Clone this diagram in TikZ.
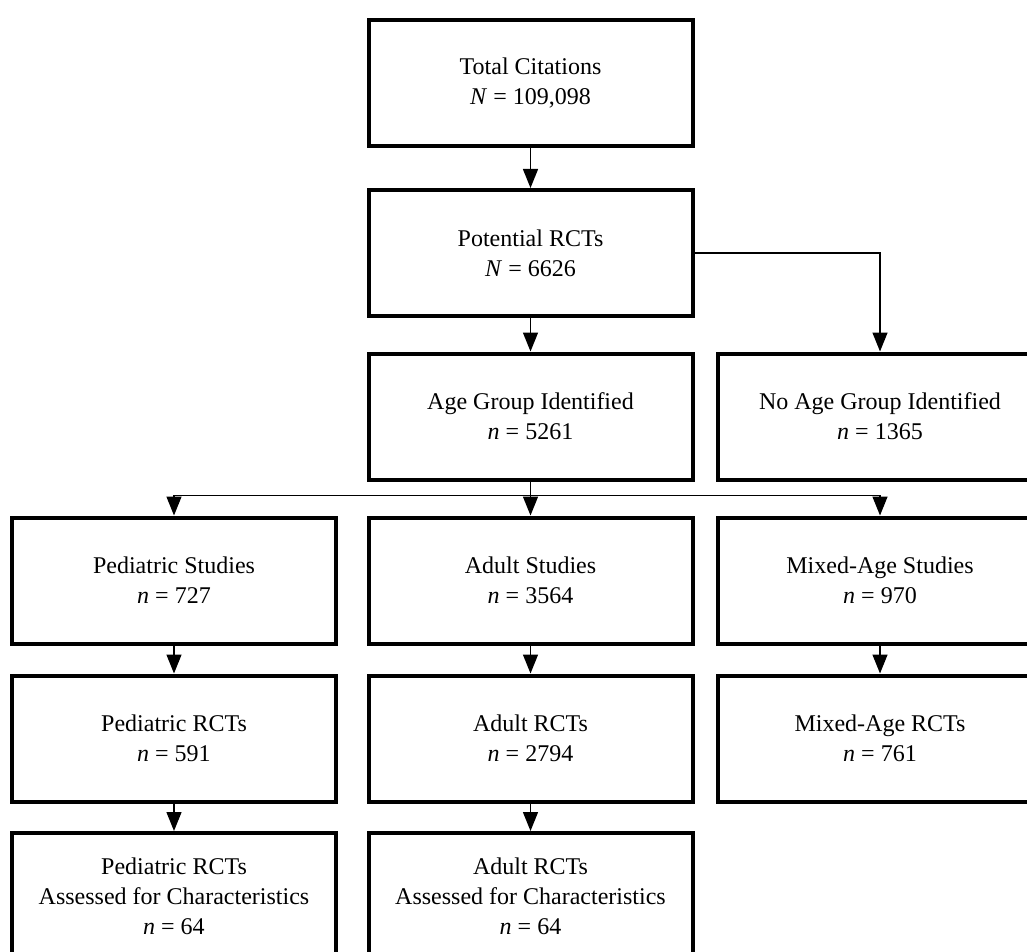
\documentclass[tikz,border=0pt]{standalone}
\usepackage{fontspec}
\setmainfont{Liberation Serif}
\usetikzlibrary{arrows.meta}
\begin{document}
\begin{tikzpicture}[x=1pt,y=-1pt,
  box/.style={draw, line width=4pt, minimum width=324pt, minimum height=126pt,
    align=center, inner sep=0pt, font=\fontsize{24}{30}\selectfont},
  conn/.style={line width=1.4pt, -{Triangle[width=15pt,length=19pt]}},
  seg/.style={line width=1.4pt}]
\useasboundingbox (0,0) rectangle (1027,952);
\fill[white] (0,0) rectangle (1027,952);
% nodes
\node[box] (tot) at (530.5,83) {Total Citations\\\textit{N} = 109,098};
\node[box] (pot) at (530.5,253) {Potential RCTs\\\textit{N} = 6626};
\node[box] (age) at (530.5,416.5) {Age Group Identified\\\textit{n} = 5261};
\node[box] (noage) at (880,416.5) {No Age Group Identified\\\textit{n} = 1365};
\node[box] (ped) at (174,580.5) {Pediatric Studies\\\textit{n} = 727};
\node[box] (adu) at (530.5,580.5) {Adult Studies\\\textit{n} = 3564};
\node[box] (mix) at (880,580.5) {Mixed-Age Studies\\\textit{n} = 970};
\node[box] (pedr) at (174,738.5) {Pediatric RCTs\\\textit{n} = 591};
\node[box] (adur) at (530.5,738.5) {Adult RCTs\\\textit{n} = 2794};
\node[box] (mixr) at (880,738.5) {Mixed-Age RCTs\\\textit{n} = 761};
\node[box] (peda) at (174,896) {Pediatric RCTs\\Assessed for Characteristics\\\textit{n} = 64};
\node[box] (adua) at (530.5,896) {Adult RCTs\\Assessed for Characteristics\\\textit{n} = 64};
% connectors
\draw[conn] (tot.south) -- (pot.north);
\draw[conn] (pot.south) -- (age.north);
\draw[conn] (pot.east) -| (noage.north);
\draw[seg] (age.south) -- ++(0,14) coordinate (br);
\draw[conn] (br) -| (ped.north);
\draw[conn] (br) -| (mix.north);
\draw[conn] (br) -- (adu.north);
\draw[conn] (ped.south) -- (pedr.north);
\draw[conn] (adu.south) -- (adur.north);
\draw[conn] (mix.south) -- (mixr.north);
\draw[conn] (pedr.south) -- (peda.north);
\draw[conn] (adur.south) -- (adua.north);
\end{tikzpicture}
\end{document}
